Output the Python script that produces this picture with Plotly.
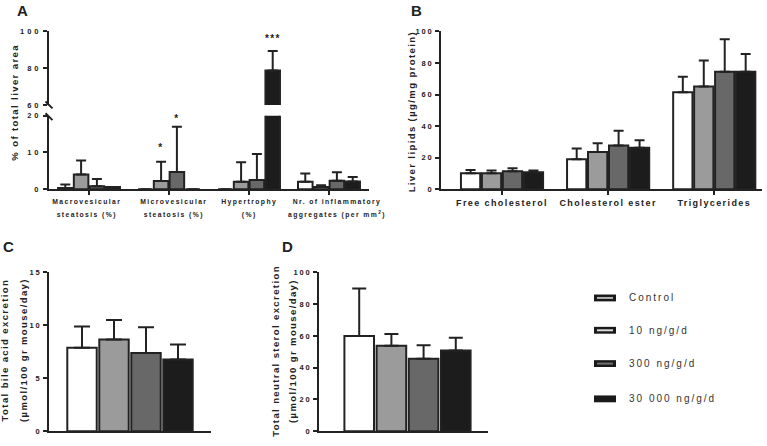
import plotly.graph_objects as go

W, H = 767, 446

# ---------------- data ----------------
groups = ["Control", "10 ng/g/d", "300 ng/g/d", "30 000 ng/g/d"]
colors = ["#ffffff", "#9b9b9b", "#686868", "#1c1c1c"]
legend_inner = ["#b4b4b4", "#dcdcdc", "#707070", "#1c1c1c"]

# Panel A: % of total liver area
a_categories = ["Macrovesicular steatosis (%)", "Microvesicular steatosis (%)",
                "Hypertrophy (%)", "Nr. of inflammatory aggregates (per mm2)"]
a_label_lines = [("Macrovesicular", "steatosis (%)"), ("Microvesicular", "steatosis (%)"),
                 ("Hypertrophy", "(%)"), ("Nr. of inflammatory", "aggregates (per mm<sup>2</sup>)")]
a_control = [0.35, 0.0, 0.0, 2.0]
a_10 = [4.0, 2.2, 2.05, 0.6]
a_300 = [0.8, 4.7, 2.5, 2.3]
a_30000 = [0.6, 0.0, 78.7, 2.1]
a_control_err = [0.9, 0.0, 0.0, 2.3]
a_10_err = [3.8, 5.3, 5.25, 0.5]
a_300_err = [2.0, 12.3, 7.1, 2.3]
a_30000_err = [0.0, 0.0, 10.6, 1.2]
a_stars = [(1, 1, "*", 11.3), (1, 2, "*", 19.3), (2, 3, "***", 96.0)]  # (category, group, text, y)

# Panel B: liver lipids
b_categories = ["Free cholesterol", "Cholesterol ester", "Triglycerides"]
b_control = [10.1, 19.0, 61.4]
b_10 = [10.1, 23.5, 65.1]
b_300 = [11.4, 27.7, 74.4]
b_30000 = [10.7, 26.2, 74.4]
b_control_err = [2.1, 6.8, 9.9]
b_10_err = [1.7, 5.6, 16.5]
b_300_err = [1.8, 9.3, 20.6]
b_30000_err = [1.1, 4.8, 11.3]

# Panel C: total bile acid excretion
c_values = [7.89, 8.66, 7.39, 6.77]
c_err = [2.0, 1.85, 2.44, 1.43]

# Panel D: total neutral sterol excretion
d_values = [60.0, 53.9, 45.7, 50.8]
d_err = [29.9, 7.4, 8.4, 8.0]

# ---------------- helpers ----------------
def fx(p):
    return p / W


def fy(p):
    return 1 - p / H


FONT = "Liberation Sans, Arial, sans-serif"
INK = "#222222"
BARGAP = 0.21

fig = go.Figure()

a_series = list(zip([a_control, a_10, a_300, a_30000],
                    [a_control_err, a_10_err, a_300_err, a_30000_err]))
b_series = list(zip([b_control, b_10, b_300, b_30000],
                    [b_control_err, b_10_err, b_300_err, b_30000_err]))


def add_bar(xcats, vals, errs, i, xa, ya, capw):
    fig.add_trace(go.Bar(
        x=xcats, y=vals, name=groups[i], showlegend=False,
        xaxis=xa, yaxis=ya,
        marker=dict(color=colors[i], line=dict(color=INK, width=2)),
        error_y=dict(type="data", array=errs, arrayminus=[0] * len(errs),
                     symmetric=False, color=INK, thickness=2, width=capw, visible=True),
        hoverinfo="skip",
    ))


# Panel A: lower (0-20) and upper (60-100) parts of the broken axis
for ya in ("y", "y2"):
    for i, (v, e) in enumerate(a_series):
        add_bar(a_categories, v, e, i, "x", ya, 5)
# Panel B
for i, (v, e) in enumerate(b_series):
    add_bar(b_categories, v, e, i, "x2", "y3", 5)
# Panel C
for i in range(4):
    add_bar(["C"], [c_values[i]], [c_err[i]], i, "x3", "y4", 8)
# Panel D
for i in range(4):
    add_bar(["D"], [d_values[i]], [d_err[i]], i, "x4", "y5", 7)

axis_common = dict(showline=True, linecolor=INK, linewidth=2, showgrid=False,
                   zeroline=False, ticks="outside", ticklen=4, tickwidth=2,
                   tickcolor=INK, fixedrange=True)
ytickfont = dict(family=FONT, size=7.5, color=INK, weight="bold")

layout_axes = dict(
    xaxis=dict(axis_common, domain=[fx(49), fx(369)], anchor="y", range=[-0.5, 3.5],
               type="category", showticklabels=False),
    yaxis=dict(axis_common, domain=[fy(189), fy(114)], anchor="x", range=[0, 20],
               tickvals=[0, 10, 20], tickfont=ytickfont),
    yaxis2=dict(axis_common, domain=[fy(103), fy(28)], anchor="x", range=[60, 100],
                tickvals=[60, 80, 100], tickfont=ytickfont),
    xaxis2=dict(axis_common, domain=[fx(441), fx(762)], anchor="y3", range=[-0.575, 2.45],
                type="category", tickfont=dict(family=FONT, size=9, color=INK, weight="bold")),
    yaxis3=dict(axis_common, domain=[fy(189), fy(28)], anchor="x2", range=[0, 100],
                dtick=20, tickfont=ytickfont),
    xaxis3=dict(axis_common, domain=[fx(49), fx(211)], anchor="y4", range=[-0.5, 0.5],
                type="category", ticks="", showticklabels=False),
    yaxis4=dict(axis_common, domain=[fy(436), fy(274)], anchor="x3", range=[0, 15],
                dtick=5, tickfont=ytickfont),
    xaxis4=dict(axis_common, domain=[fx(319), fx(488)], anchor="y5", range=[-0.543, 0.494],
                type="category", ticks="", showticklabels=False),
    yaxis5=dict(axis_common, domain=[fy(436), fy(274)], anchor="x4", range=[0, 100],
                dtick=20, tickfont=ytickfont),
)

annotations = []
# panel letters (indices 0-3)
for letter, px, py in [("A", 22, 7), ("B", 416, 7), ("C", 8, 248), ("D", 287, 248)]:
    annotations.append(dict(text=letter, x=fx(px), y=fy(py), xref="paper", yref="paper",
                            showarrow=False, xanchor="center", yanchor="middle",
                            font=dict(family=FONT, size=15, color=INK, weight="bold")))
# y-axis titles
ytitles = [("% of total liver area", 15, 100), ("Liver lipids (µg/mg protein)", 412, 110),
           ("Total bile acid excretion", 5, 353), ("(µmol/100 gr mouse/day)", 24, 353),
           ("Total neutral sterol excretion", 276, 354), ("(µmol/100 gr mouse/day)", 293, 354)]
for t, px, py in ytitles:
    annotations.append(dict(text=t, x=fx(px), y=fy(py), xref="paper", yref="paper",
                            showarrow=False, textangle=-90, xanchor="center", yanchor="middle",
                            font=dict(family=FONT, size=9.5, color=INK, weight="bold")))
# panel A category labels (two lines, wide line spacing)
a_label_shift = [-2, 5, 0, 8]
for k, (l1, l2) in enumerate(a_label_lines):
    annotations.append(dict(
        text='<span style="font-size:6.8px">%s</span><br><span style="font-size:6.8px">%s</span>' % (l1, l2),
        x=k, y=fy(196), xref="x", yref="paper", xshift=a_label_shift[k],
        showarrow=False, xanchor="center", yanchor="top", align="center",
        font=dict(family=FONT, size=10, color=INK, weight="bold")))
# significance stars
slot = (1 - BARGAP) / 4
for cat, g, txt, yv in a_stars:
    annotations.append(dict(text=txt, x=cat + (g - 1.5) * slot, y=yv, xref="x",
                            yref="y2" if yv > 20 else "y", showarrow=False,
                            xanchor="center", yanchor="middle",
                            font=dict(family=FONT, size=10, color=INK, weight="bold")))
legend_start = len(annotations)
# manual legend
legend_rows = [300, 333, 367, 403]
shapes = []
for i, py in enumerate(legend_rows):
    shapes.append(dict(type="rect", xref="paper", yref="paper",
                       x0=fx(594), x1=fx(616), y0=fy(py + 3.5), y1=fy(py - 3.5),
                       fillcolor="#1a1a1a", line=dict(width=0)))
    if i < 3:
        shapes.append(dict(type="rect", xref="paper", yref="paper",
                           x0=fx(597), x1=fx(613), y0=fy(py + 1), y1=fy(py - 1),
                           fillcolor=legend_inner[i], line=dict(width=0)))
    annotations.append(dict(text=groups[i], x=fx(627), y=fy(py), xref="paper", yref="paper",
                            showarrow=False, xanchor="left", yanchor="middle", align="left",
                            font=dict(family=FONT, size=10, color="#333333")))
# axis-break marks for panel A
for py in (103, 115):
    shapes.append(dict(type="line", xref="paper", yref="paper",
                       x0=fx(45.5), x1=fx(52.5), y0=fy(py - 3.5), y1=fy(py + 3.5),
                       line=dict(color=INK, width=2)))

fig.update_layout(
    width=W, height=H, margin=dict(l=0, r=0, t=0, b=0),
    paper_bgcolor="white", plot_bgcolor="white",
    barmode="group", bargap=BARGAP, bargroupgap=0.08,
    showlegend=False, annotations=annotations, shapes=shapes,
    font=dict(family=FONT, color=INK),
    **layout_axes,
)

leg_sel = ",".join('.annotation[data-index="%d"] text' % k for k in range(legend_start, legend_start + 4))
let_sel = ",".join('.annotation[data-index="%d"] text' % k for k in range(4))
post = (
    "var st=document.createElement('style');"
    "st.textContent='html,body{margin:0;padding:0;overflow:hidden;}"
    " .main-svg text{letter-spacing:1.4px;}"
    " .ytick text,.y2tick text{letter-spacing:3px;}"
    " .y3tick text,.y4tick text,.y5tick text{letter-spacing:1.8px;}"
    " " + leg_sel + "{letter-spacing:2px;}"
    " " + let_sel + "{letter-spacing:0px;}';"
    "document.head.appendChild(st);"
)

fig.write_html("out.html", post_script=post, config={"displayModeBar": False})
